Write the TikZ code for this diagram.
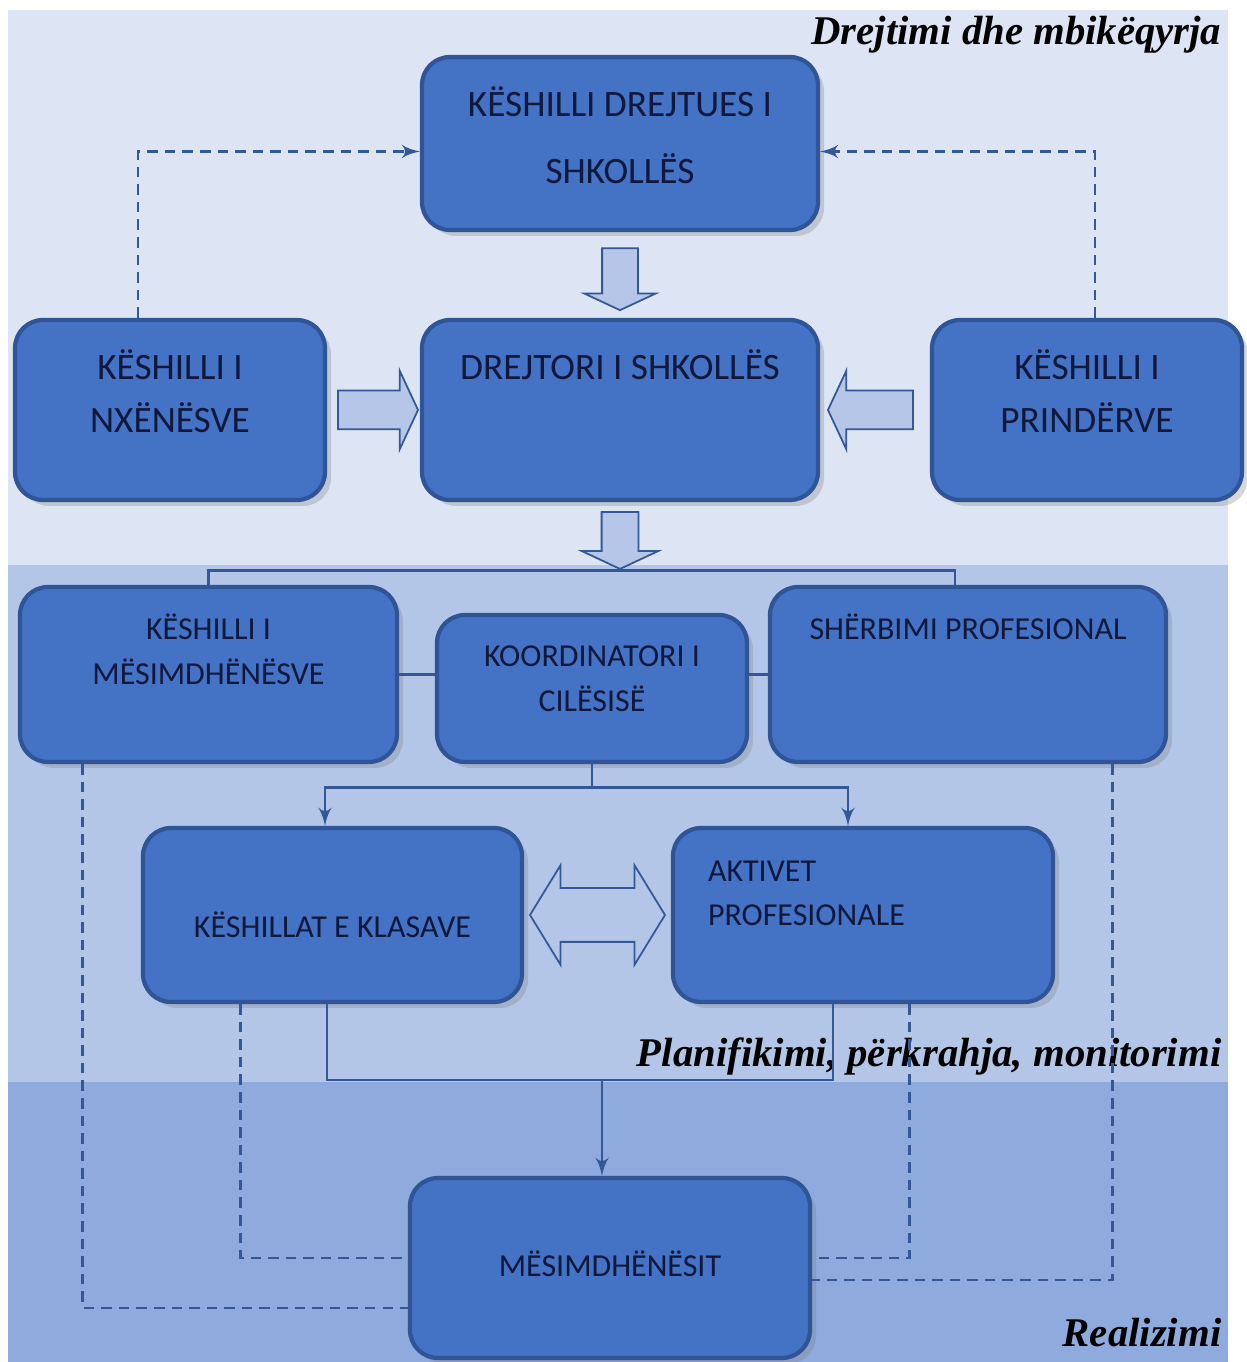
\documentclass[tikz,border=0pt]{standalone}
\usepackage{fontspec}
\setmainfont{Carlito}
\newfontfamily\labelfont{Liberation Serif}
\usetikzlibrary{shapes,arrows,shadows,calc}
\definecolor{bandA}{RGB}{221,228,243}
\definecolor{bandB}{RGB}{180,198,231}
\definecolor{bandC}{RGB}{143,170,220}
\definecolor{boxfill}{RGB}{68,114,196}
\definecolor{boxline}{RGB}{47,85,151}
\definecolor{boxtext}{RGB}{16,24,60}
\definecolor{arrowfill}{RGB}{182,198,232}
\definecolor{linecol}{RGB}{52,88,150}
\tikzstyle{block} = [rectangle, draw=boxline, line width=1.2pt, fill=boxfill, text=boxtext,
    rounded corners=2.8mm, inner sep=0pt, align=flush center, font=\fontsize{10.6}{13}\selectfont,
    drop shadow={shadow xshift=0.6mm, shadow yshift=-0.6mm, opacity=0.3}]
\tikzstyle{lowfont} = [font=\fontsize{9.1}{12.8}\selectfont]
\tikzstyle{line} = [draw=linecol, line width=0.8pt]
\tikzstyle{dashline} = [draw=linecol, line width=0.8pt, dash pattern=on 3pt off 2pt]
\tikzstyle{fat} = [single arrow, draw=linecol, line width=0.5pt, fill=arrowfill, inner xsep=0pt,
    single arrow tip angle=130]
\tikzstyle{twoway} = [double arrow, draw=linecol, line width=0.5pt, inner xsep=0pt,
    double arrow tip angle=117]
\tikzstyle{caption} = [anchor=base east, text=black, inner sep=0pt,
    font=\labelfont\fontsize{11.6}{14}\selectfont\bfseries\itshape]

\begin{document}
\begin{tikzpicture}
	\useasboundingbox (0,0) rectangle (12.46,13.62);
	\fill [white] (0,0) rectangle (12.46,13.62);
	% levels
	\fill [bandA] (0.08,7.97) rectangle (12.28,13.52);
	\fill [bandB] (0.08,2.80) rectangle (12.28,7.97);
	\fill [bandC] (0.08,0) rectangle (12.28,2.80);
	\node [caption] (lvlA) at (12.22,13.17) {Drejtimi dhe mbikëqyrja};
	\node [caption] (lvlB) at (12.22,2.95) {Planifikimi, përkrahja, monitorimi};
	\node [caption] (lvlC) at (12.22,0.15) {Realizimi};

	% boxes
	\node [block, minimum width=3.96cm, minimum height=1.80cm, text height=0.60cm, text depth=1.20cm] (dir) at (6.20,9.52) {DREJTORI I SHKOLLËS};
	\node [block, above of=dir, node distance=2.665cm, minimum width=3.96cm, minimum height=1.73cm, text width=3.6cm, text height=0.60cm, text depth=1.13cm] (kds) {KËSHILLI DREJTUES I\\[6pt]SHKOLLËS};
	\node [block, left of=dir, node distance=4.50cm, minimum width=3.10cm, minimum height=1.80cm, text width=2.9cm, text height=0.60cm, text depth=1.20cm, font=\fontsize{10.6}{14.8}\selectfont] (nxe) {KËSHILLI I\\NXËNËSVE};
	\node [block, right of=dir, node distance=4.67cm, minimum width=3.10cm, minimum height=1.80cm, text width=2.9cm, text height=0.60cm, text depth=1.20cm, font=\fontsize{10.6}{14.8}\selectfont] (prind) {KËSHILLI I\\PRINDËRVE};

	\node [block, lowfont, below of=dir, node distance=2.785cm, xshift=-0.28cm, minimum width=3.10cm, minimum height=1.47cm, text width=2.9cm, text height=0.52cm, text depth=0.95cm] (koord) {KOORDINATORI I\\CILËSISË};
	\node [block, lowfont, left of=koord, node distance=3.835cm, yshift=1.4mm, minimum width=3.77cm, minimum height=1.75cm, text width=3.5cm, text height=0.53cm, text depth=1.22cm] (mesues) {KËSHILLI I\\MËSIMDHËNËSVE};
	\node [block, lowfont, right of=koord, node distance=3.76cm, yshift=1.4mm, minimum width=3.96cm, minimum height=1.75cm, text height=0.53cm, text depth=1.22cm] (sherb) {SHËRBIMI PROFESIONAL};

	\node [block, lowfont, minimum width=3.79cm, minimum height=1.74cm, text height=1.10cm, text depth=0.64cm] (klasa) at (3.325,4.47) {KËSHILLAT E KLASAVE};
	\node [block, lowfont, right of=klasa, node distance=5.305cm, minimum width=3.80cm, minimum height=1.74cm, align=flush left, text width=3.10cm, text height=0.54cm, text depth=1.20cm, font=\fontsize{9.1}{12.5}\selectfont] (aktiv) {AKTIVET\\PROFESIONALE};

	\node [block, lowfont, minimum width=4.00cm, minimum height=1.80cm, text height=0.98cm, text depth=0.82cm] (mesit) at (6.10,0.94) {MËSIMDHËNËSIT};

	% block arrows
	\coordinate (bus) at ($(dir.south)+(0,-0.68)$);
	\node [fat, rotate=-90, minimum height=0.62cm, inner ysep=0.17cm, single arrow head extend=0.18cm] (down1) at ($(kds.south)!0.5!(dir.north)$) {};
	\node [fat, minimum height=0.80cm, inner ysep=0.185cm, single arrow head extend=0.20cm] (right1) at ($(nxe.east)!0.5!(dir.west)$) {};
	\node [fat, rotate=180, minimum height=0.85cm, inner ysep=0.185cm, single arrow head extend=0.20cm] (left1) at ($(prind.west)!0.5!(dir.east)$) {};
	\node [fat, rotate=-90, minimum height=0.57cm, inner ysep=0.175cm, single arrow head extend=0.20cm] (down2) at ($(dir.south)!0.5!(bus)$) {};
	\node [twoway, minimum height=1.35cm, inner ysep=0.26cm, double arrow head extend=0.23cm] (swap) at ($(klasa.east)!0.5!(aktiv.west)$) {};

	% connectors
	\path [line] (mesues.north) |- (bus) -| ([xshift=-1.3mm]sherb.north);
	\path [line] (mesues.east) -- (mesues.east -| koord.west);
	\path [line] (sherb.west -| koord.east) -- (sherb.west);
	\coordinate (split) at ($(koord.south)+(0,-0.23)$);
	\path [line, -latex'] (koord.south) -- (split) -| ([xshift=-0.75mm]klasa.north);
	\path [line, -latex'] (split) -| ([xshift=-1.5mm]aktiv.north);
	\coordinate (merge) at (6.02,2.82);
	\path [line] ([xshift=-0.55mm]klasa.south) |- (merge) -| ([xshift=-3mm]aktiv.south);
	\path [line, -latex'] (merge) -- (merge |- mesit.north);

	\path [dashline, -latex'] ([xshift=-3.2mm]nxe.north) |- ([yshift=-0.8mm]kds.west);
	\path [dashline, -latex'] ([xshift=0.8mm]prind.north) |- ([yshift=-0.8mm]kds.east);
	\path [dashline] ([xshift=6.5mm]mesues.south west) |- ([yshift=-4mm]mesit.west);
	\path [dashline] ([xshift=10mm]klasa.south west) |- ([yshift=1mm]mesit.west);
	\path [dashline] ([xshift=-14.6mm]aktiv.south east) |- ([yshift=1mm]mesit.east);
	\path [dashline] ([xshift=-5.6mm]sherb.south east) |- ([yshift=-1.2mm]mesit.east);
\end{tikzpicture}
\end{document}
